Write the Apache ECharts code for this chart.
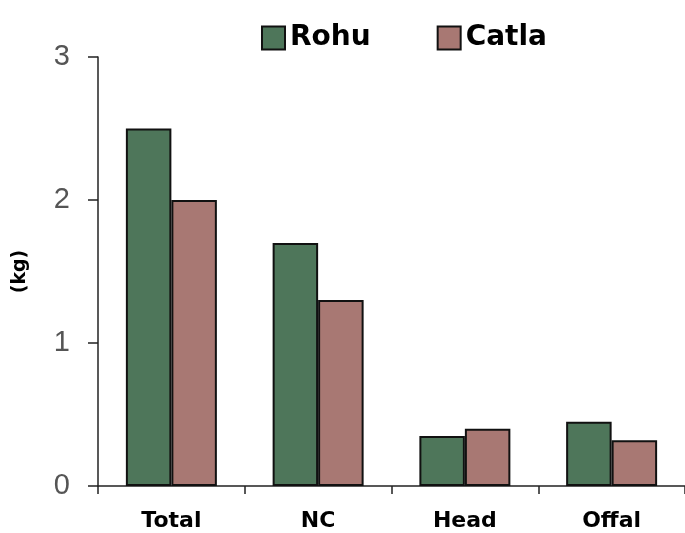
<!DOCTYPE html>
<html>
<head>
<meta charset="utf-8">
<script src="https://cdn.jsdelivr.net/npm/echarts@6/dist/echarts.min.js"></script>
<style>
  html, body { margin: 0; padding: 0; background: #fff; }
  #chart { width: 685px; height: 533px; }
</style>
</head>
<body>
<div id="chart"></div>
<script>
// Parts of the fish, weight in kg
const categories = ['Total', 'NC', 'Head', 'Offal'];
const rohu = [2.5, 1.7, 0.35, 0.45];
const catla = [2.0, 1.3, 0.40, 0.32];
const seriesNames = ['Rohu', 'Catla'];
const yTicks = [0, 1, 2, 3];

const colors = ['#4E765A', '#A87873'];
const chart = echarts.init(document.getElementById('chart'), null, { renderer: 'canvas' });

const barStyle = (c) => ({ color: c, borderColor: '#111', borderWidth: 2 });

chart.setOption({
  backgroundColor: '#fff',
  animation: false,
  legend: {
    data: seriesNames,
    left: 256,
    top: 19,
    itemWidth: 23,
    itemHeight: 23,
    itemGap: 66,
    icon: 'rect',
    textStyle: {
      fontFamily: 'DejaVu Sans',
      fontWeight: 'bold',
      fontSize: 28,
      color: '#000'
    }
  },
  grid: { left: 98, top: 57, width: 592, height: 429, containLabel: false },
  xAxis: {
    type: 'category',
    data: categories,
    axisLine: { lineStyle: { color: '#222', width: 1.5 } },
    axisTick: { show: true, alignWithLabel: false, length: 8, lineStyle: { color: '#222', width: 1.5 } },
    axisLabel: {
      margin: 24,
      fontFamily: 'DejaVu Sans',
      fontWeight: 'bold',
      fontSize: 22,
      color: '#000'
    }
  },
  yAxis: {
    type: 'value',
    min: yTicks[0],
    max: yTicks[yTicks.length - 1],
    interval: 1,
    name: '(kg)',
    nameLocation: 'middle',
    nameGap: 68,
    nameRotate: 90,
    nameTextStyle: {
      fontFamily: 'DejaVu Sans',
      fontWeight: 'bold',
      fontSize: 19,
      color: '#000'
    },
    axisLine: { show: true, lineStyle: { color: '#222', width: 1.5 } },
    axisTick: { show: true, length: 10, lineStyle: { color: '#222', width: 1.5 } },
    splitLine: { show: false },
    axisLabel: {
      margin: 28,
      fontFamily: 'Liberation Sans',
      fontSize: 29,
      color: '#555'
    }
  },
  series: [
    {
      name: seriesNames[0],
      type: 'bar',
      data: rohu,
      barGap: '0%',
      barCategoryGap: '38%',
      itemStyle: barStyle(colors[0])
    },
    {
      name: seriesNames[1],
      type: 'bar',
      data: catla,
      barGap: '0%',
      barCategoryGap: '38%',
      itemStyle: barStyle(colors[1])
    }
  ]
});
</script>
</body>
</html>
